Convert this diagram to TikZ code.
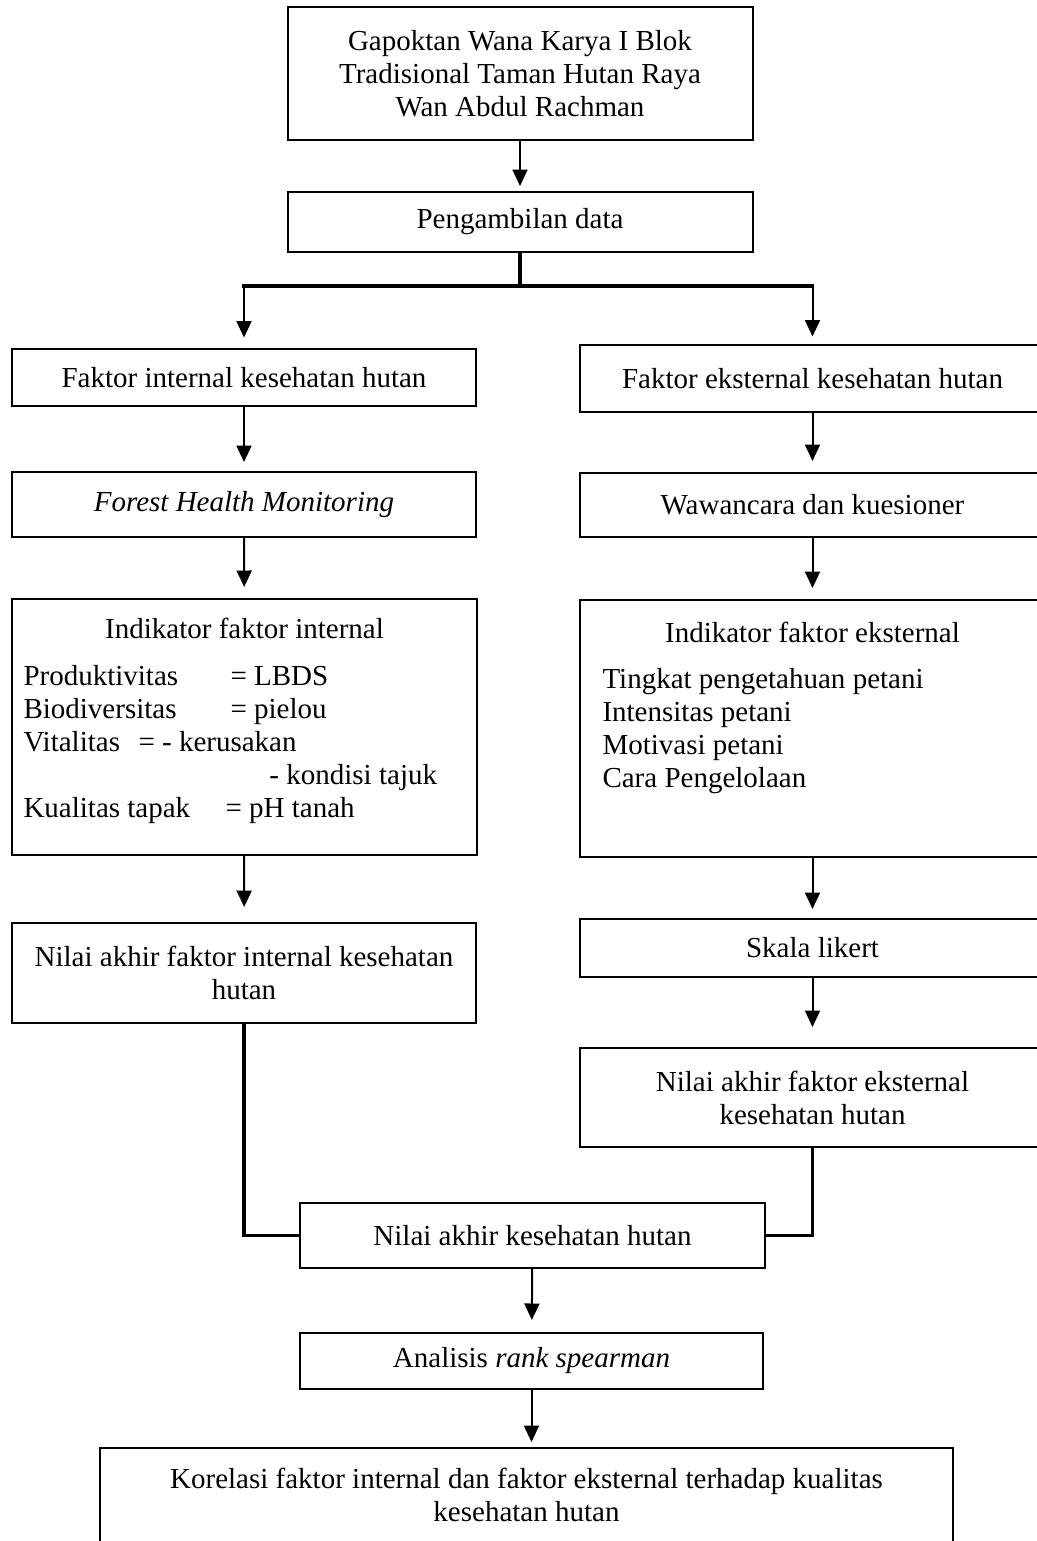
\documentclass[tikz,border=0pt]{standalone}
\usepackage{fontspec}
\setmainfont{Liberation Serif}
\usetikzlibrary{arrows.meta,positioning}
\newlength\pxu
\setlength\pxu{0.4pt}
\newcommand\flowfont{\fontsize{11.6pt}{13.2pt}\selectfont}

\begin{document}
\begin{tikzpicture}[
  x=0.4pt, y=-0.4pt,
  box/.style={draw, line width=0.8pt, inner sep=0pt, minimum width=465\pxu,
              align=center, font=\flowfont},
  lst/.style={inner sep=0pt, anchor=base west, font=\flowfont},
  arr/.style={-{Triangle[length=6.6pt,width=6pt]}, line width=0.8pt, shorten >=3.6pt},
  link/.style={line width=1.3pt}
]
\useasboundingbox (0,0) rectangle (1037,1541);
\node[box, minimum height=133\pxu] (gap) at (520,73.5) {Gapoktan Wana Karya I Blok\\
  Tradisional Taman Hutan Raya\\Wan Abdul Rachman};
\node[box, minimum height=60\pxu] (data) at (520,222) {Pengambilan data};
\node[box, minimum height=57\pxu, minimum width=464\pxu] (fint) at (244,377.5) {Faktor internal kesehatan hutan};
\node[box, minimum height=67\pxu] (feks) at (812.5,378.5) {Faktor eksternal kesehatan hutan};
\node[box, minimum height=65\pxu, minimum width=464\pxu] (fhm) at (244,504.5) {\textit{Forest Health Monitoring}};
\node[box, minimum height=64\pxu] (waw) at (812.5,505) {Wawancara dan kuesioner};
\node[box, minimum height=256\pxu] (indint) at (244.5,727) {};
\node[box, minimum height=257\pxu] (indeks) at (812.5,728.5) {};
\node[lst, anchor=base] (indinttitle) at (244.5,638) {Indikator faktor internal};
\node[lst] (indintlist) at (23,685) {%
  \begin{tabular}[t]{@{}l@{}}
  \makebox[207\pxu][l]{Produktivitas}= LBDS\\
  \makebox[207\pxu][l]{Biodiversitas}= pielou\\
  \makebox[115\pxu][l]{Vitalitas}= - kerusakan\\
  \hspace*{246\pxu}- kondisi tajuk\\
  \makebox[202\pxu][l]{Kualitas tapak}= pH tanah
  \end{tabular}};
\node[lst, anchor=base] (indekstitle) at (812.5,642) {Indikator faktor eksternal};
\node[lst] (indekslist) at (602,688) {%
  \begin{tabular}[t]{@{}l@{}}
  Tingkat pengetahuan petani\\Intensitas petani\\Motivasi petani\\Cara Pengelolaan
  \end{tabular}};
\node[box, minimum height=100\pxu, minimum width=464\pxu] (nint) at (244,973) {Nilai akhir faktor internal kesehatan\\hutan};
\node[box, minimum height=58\pxu] (skala) at (812.5,948) {Skala likert};
\node[box, minimum height=99\pxu] (neks) at (812.5,1097.5) {Nilai akhir faktor eksternal\\kesehatan hutan};
\node[box, minimum height=65\pxu] (nilai) at (532.5,1235.5) {Nilai akhir kesehatan hutan};
\node[box, minimum height=56\pxu, minimum width=463\pxu] (rank) at (531.5,1361) {Analisis \textit{rank spearman}};
\node[box, anchor=north, minimum width=853\pxu, inner ysep=8pt, text depth=60pt] (kor) at (526.5,1447)
  {Korelasi faktor internal dan faktor eksternal terhadap kualitas\\kesehatan hutan};
\coordinate (split) at (data.south |- 0,286);
\coordinate (splitl) at (fint.north |- split);
\coordinate (splitr) at (feks.north |- split);
\draw[arr, shorten >=2pt] (gap) -- (data);
\draw[link] (data.south) -- (split);
\draw[link, line cap=rect] (splitl) -- (splitr);
\draw[arr, shorten >=4.2pt] (splitl) -- (fint.north);
\draw[arr, shorten >=3pt] (splitr) -- (feks.north);
\draw[arr] (fint) -- (fhm);
\draw[arr, shorten >=4.4pt] (feks) -- (waw);
\draw[arr, shorten >=4.4pt] (fhm) -- (indint);
\draw[arr, shorten >=4.4pt] (waw) -- (indeks);
\draw[arr, shorten >=6pt] (indint) -- (nint);
\draw[arr] (indeks) -- (skala);
\draw[arr, shorten >=8pt] (skala) -- (neks);
\draw[link] (nint.south) |- (nilai.west);
\draw[link] (neks.south) |- (nilai.east);
\draw[arr, shorten >=4.8pt] (nilai) -- (rank);
\draw[arr, shorten >=2pt] (rank.south) -- (rank.south |- kor.north);
\end{tikzpicture}
\end{document}
